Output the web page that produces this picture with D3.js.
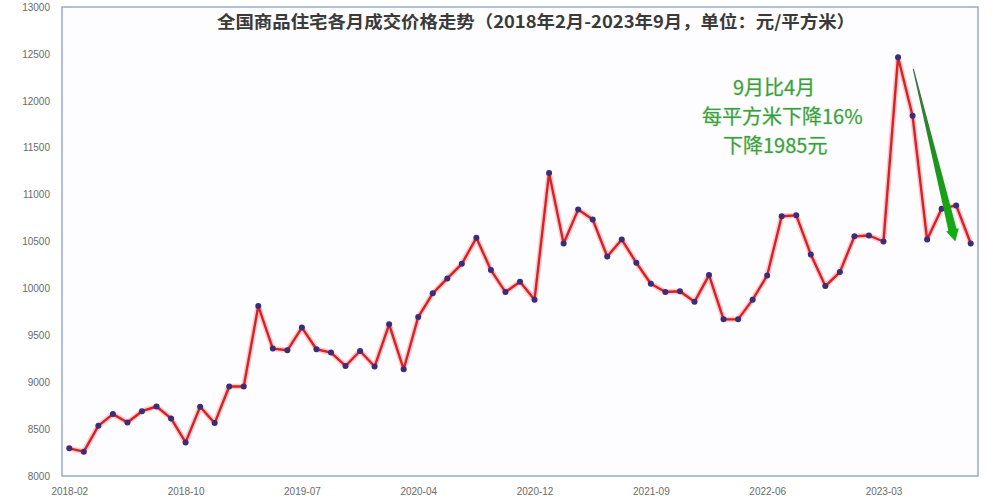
<!DOCTYPE html>
<html>
<head>
<meta charset="utf-8">
<script src="https://cdn.jsdelivr.net/npm/d3@7"></script>
<style>
  html, body { margin: 0; padding: 0; background: #ffffff; }
  svg { display: block; }
</style>
</head>
<body>
<svg id="chart" width="1000" height="500"></svg>
<script>
// ---------------- data ----------------
const months = [
  "2018-02","2018-03","2018-04","2018-05","2018-06","2018-07","2018-08","2018-09","2018-10","2018-11","2018-12",
  "2019-02","2019-03","2019-04","2019-05","2019-06","2019-07","2019-08","2019-09","2019-10","2019-11","2019-12",
  "2020-02","2020-03","2020-04","2020-05","2020-06","2020-07","2020-08","2020-09","2020-10","2020-11","2020-12",
  "2021-02","2021-03","2021-04","2021-05","2021-06","2021-07","2021-08","2021-09","2021-10","2021-11","2021-12",
  "2022-02","2022-03","2022-04","2022-05","2022-06","2022-07","2022-08","2022-09","2022-10","2022-11","2022-12",
  "2023-02","2023-03","2023-04","2023-05","2023-06","2023-07","2023-08","2023-09"
];
const prices = [
  8295, 8259, 8535, 8660, 8571, 8691, 8741, 8614, 8358, 8738, 8564,
  8954, 8954, 9812, 9358, 9340, 9582, 9351, 9316, 9173, 9333, 9167,
  9617, 9138, 9695, 9947, 10106, 10262, 10539, 10195, 9961, 10071, 9880,
  11231, 10479, 10840, 10734, 10340, 10521, 10273, 10050, 9961, 9970, 9857,
  10142, 9670, 9670, 9880, 10138, 10769, 10779, 10362, 10025, 10174, 10555,
  10564, 10500, 12465, 11840, 10521, 10848, 10885, 10479
];
const xTickLabels = ["2018-02","2018-10","2019-07","2020-04","2020-12","2021-09","2022-06","2023-03"];
const yTicks = [8000, 8500, 9000, 9500, 10000, 10500, 11000, 11500, 12000, 12500, 13000];
const yDomain = [8000, 13000];
const titleText = "全国商品住宅各月成交价格走势（2018年2月-2023年9月，单位：元/平方米）";
const noteLines = ["9月比4月", "每平方米下降16%", "下降1985元"];
// arrow annotation anchored in data space: [month index, price]
const arrowFrom = [58.05, 12340];
const arrowTo = [60.94, 10500];

// ---------------- layout ----------------
const svg = d3.select("#chart");
const plot = { left: 62, right: 978, top: 7, bottom: 476 };

const x = d3.scalePoint().domain(months).range([plot.left, plot.right]).padding(0.5);
const y = d3.scaleLinear().domain(yDomain).range([plot.bottom, plot.top]);
const xi = i => x(months[0]) + i * x.step();

// plot border
svg.append("rect")
  .attr("x", plot.left).attr("y", plot.top)
  .attr("width", plot.right - plot.left).attr("height", plot.bottom - plot.top)
  .attr("fill", "#fdfdff").attr("stroke", "#98aacb").attr("stroke-width", 1.5);

// y axis labels
const yAxis = d3.axisLeft(y).tickValues(yTicks).tickFormat(d3.format("d")).tickSize(0).tickPadding(12);
const gy = svg.append("g").attr("transform", `translate(${plot.left},0)`).call(yAxis);
gy.select(".domain").remove();
gy.selectAll("text").attr("font-family", "'Liberation Sans', Arial, sans-serif")
  .attr("font-size", 10).attr("fill", "#6a6a6a");

// x axis labels
const xAxis = d3.axisBottom(x).tickValues(xTickLabels).tickSize(0).tickPadding(12);
const gx = svg.append("g").attr("transform", `translate(0,${plot.bottom})`).call(xAxis);
gx.select(".domain").remove();
gx.selectAll("text").attr("font-family", "'Liberation Sans', Arial, sans-serif")
  .attr("font-size", 10).attr("fill", "#6a6a6a");

// title
svg.append("text")
  .attr("x", 536).attr("y", 28)
  .attr("text-anchor", "middle")
  .attr("font-family", "'Noto Sans CJK SC', sans-serif")
  .attr("font-size", 17).attr("font-weight", "bold")
  .attr("fill", "#3a3a3a")
  .attr("textLength", 638).attr("lengthAdjust", "spacingAndGlyphs")
  .text(titleText);

// line
const line = d3.line().x((d, i) => x(months[i])).y(d => y(d));
svg.append("path").datum(prices).attr("d", line)
  .attr("fill", "none").attr("stroke", "rgba(235,80,80,0.28)").attr("stroke-width", 5.5)
  .attr("stroke-linejoin", "round");
svg.append("path").datum(prices).attr("d", line)
  .attr("fill", "none").attr("stroke", "#dc1f24").attr("stroke-width", 2.4)
  .attr("stroke-linejoin", "round");

// markers
svg.append("g").selectAll("circle").data(prices).join("circle")
  .attr("cx", (d, i) => x(months[i])).attr("cy", d => y(d))
  .attr("r", 3).attr("fill", "#3b2d78");

// annotation text
const noteX = [733, 702, 723];
const noteY = [95, 124, 153];
svg.append("g").selectAll("text").data(noteLines).join("text")
  .attr("x", (d, i) => noteX[i]).attr("y", (d, i) => noteY[i])
  .attr("font-family", "'Noto Sans CJK SC', sans-serif")
  .attr("font-size", 20)
  .attr("fill", "#3d9e3d")
  .attr("stroke", "rgba(120,200,120,0.35)").attr("stroke-width", 1.2)
  .attr("paint-order", "stroke")
  .text(d => d);

// green tapered arrow
const sx = xi(arrowFrom[0]), sy = y(arrowFrom[1]);
const tx = xi(arrowTo[0]), ty = y(arrowTo[1]);
const dx = tx - sx, dy = ty - sy, L = Math.hypot(dx, dy);
const ux = dx / L, uy = dy / L, nx = -uy, ny = ux;
const headLen = 12, w0 = 0.6, w1 = 4.2, wh = 6.5;
const bx = tx - ux * headLen, by = ty - uy * headLen;
const pts = [
  [sx + nx * w0, sy + ny * w0],
  [bx + nx * w1, by + ny * w1],
  [bx + nx * wh, by + ny * wh],
  [tx, ty],
  [bx - nx * wh, by - ny * wh],
  [bx - nx * w1, by - ny * w1],
  [sx - nx * w0, sy - ny * w0]
];
const defs = svg.append("defs");
const grad = defs.append("linearGradient").attr("id", "arrowGrad")
  .attr("gradientUnits", "userSpaceOnUse")
  .attr("x1", sx).attr("y1", sy).attr("x2", tx).attr("y2", ty);
grad.append("stop").attr("offset", "0%").attr("stop-color", "#4f6b4f");
grad.append("stop").attr("offset", "45%").attr("stop-color", "#1f8f1f");
grad.append("stop").attr("offset", "100%").attr("stop-color", "#12b012");
svg.append("path")
  .attr("d", d3.line()(pts) + "Z")
  .attr("fill", "url(#arrowGrad)");
</script>
</body>
</html>
